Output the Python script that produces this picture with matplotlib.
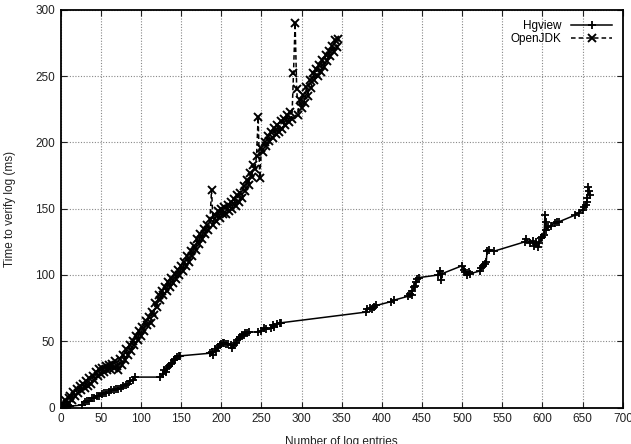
#!/usr/bin/env python3
"""
Log verification time vs number of log entries (Hgview / OpenJDK).
"""

import numpy as np
import matplotlib

matplotlib.use("Agg")
import matplotlib.pyplot as plt

# OpenJDK: one sample every 2 log entries
openjdk_x = np.arange(0, 347, 2)
openjdk_y = [
    0, 2, 1, 6, 3, 7, 9, 6, 12, 9,
    14, 11, 16, 13, 18, 15, 20, 16, 22, 18,
    24, 21, 27, 24, 29, 25, 30, 27, 31, 28,
    32, 29, 33, 30, 35, 31, 28, 37, 32, 40,
    36, 44, 40, 47, 43, 50, 47, 54, 51, 58,
    54, 61, 58, 65, 62, 68, 64, 72, 70, 79,
    76, 85, 81, 88, 85, 91, 88, 95, 91, 98,
    94, 101, 97, 104, 100, 107, 103, 110, 107, 114,
    110, 118, 114, 122, 119, 127, 123, 131, 127, 135,
    131, 138, 134, 142, 164, 138, 145, 141, 148, 143,
    150, 146, 151, 146, 153, 148, 155, 150, 157, 152,
    160, 155, 162, 158, 167, 163, 172, 168, 177, 174,
    183, 180, 190, 219, 173, 196, 193, 200, 197, 205,
    201, 208, 203, 211, 206, 213, 208, 216, 210, 218,
    213, 221, 215, 223, 218, 252, 290, 240, 221, 232,
    226, 236, 230, 242, 235, 247, 241, 252, 247, 255,
    250, 258, 253, 262, 257, 266, 261, 269, 265, 273,
    268, 277, 272, 278,
]

hgview_x = [
    0, 3, 6, 9, 12,
    27, 30, 33, 36, 39, 42, 45, 48, 51, 54, 57, 60, 63, 66, 69, 72, 75,
    78, 81, 84, 87, 90, 93,
    124, 127, 129, 131, 133, 135, 137, 139, 141, 143, 145, 147, 149,
    186, 188, 190, 192, 194, 196, 198, 200, 202, 204, 206, 208, 212, 214,
    216, 218, 220, 222, 224, 226, 228, 230, 232, 234,
    246, 250, 253, 256, 262, 264, 266, 270, 273, 275,
    380, 382, 385, 388, 390, 393, 412, 415,
    433, 435, 437, 438, 440, 441, 442, 444, 446,
    470, 472, 474, 475,
    500, 502, 504, 506, 508, 510,
    522, 524, 526, 528, 530, 531, 533, 540,
    578, 580, 585, 588, 590, 592, 594, 596, 598, 600, 602, 603, 604, 605,
    607, 610, 615, 618, 620, 640, 645, 650, 652, 654, 655, 656, 657, 658,
    659,
]
hgview_y = [
    0, 1, 0, 2, 1,
    2, 4, 5, 5, 7, 7, 9, 9, 10, 11, 11, 12, 13, 13, 14, 14, 15,
    16, 17, 18, 20, 21, 23,
    23, 25, 28, 27, 30, 31, 33, 34, 36, 37, 38, 39, 39,
    41, 42, 40, 44, 43, 46, 47, 48, 49, 49, 48, 48, 47, 45,
    47, 49, 51, 52, 53, 55, 55, 56, 56, 57,
    57, 58, 60, 59, 60, 62, 61, 63, 64, 64,
    72, 74, 75, 74, 76, 77, 80, 81,
    84, 86, 85, 88, 91, 92, 95, 97, 98,
    100, 103, 96, 101,
    107, 104, 102, 100, 102, 101,
    103, 105, 107, 108, 110, 118, 119, 118,
    125, 127, 124, 126, 122, 125, 121, 124, 128, 129, 130, 145, 140, 134,
    136, 137, 139, 140, 140, 145, 147, 149, 151, 153, 155, 158, 166, 163,
    160,
]

plt.rcParams["font.family"] = ["Liberation Sans", "DejaVu Sans"]

fig = plt.figure(figsize=(6.31, 4.44), dpi=100)
ax = fig.add_axes([0.096, 0.082, 0.891, 0.896])

ax.plot(hgview_x, hgview_y, "-", color="black", lw=1.1,
        marker="+", ms=6, mew=1.3, label="Hgview")
ax.plot(openjdk_x, openjdk_y, "--", color="black", lw=1.1, dashes=(3, 2),
        marker="x", ms=6, mew=1.4, label="OpenJDK")

ax.set_xlim(0, 700)
ax.set_ylim(0, 300)
ax.set_xticks(range(0, 701, 50))
ax.set_yticks(range(0, 301, 50))
ax.grid(True, color="#888888", linestyle=(0, (1, 1.5)), lw=0.8)
ax.tick_params(direction="in", top=True, right=True, length=4,
               labelsize=8.5, colors="#222222", pad=4)
for s in ax.spines.values():
    s.set_linewidth(1.3)

ax.set_xlabel("Number of log entries", fontsize=8.5, color="#222222", labelpad=8)
ax.set_ylabel("Time to verify log (ms)", fontsize=8.5, color="#222222", labelpad=14)

ax.legend(loc="upper right", frameon=False, fontsize=8.5, markerfirst=False,
          handlelength=3.5, handletextpad=0.8, labelspacing=0.05,
          borderaxespad=0.5)

fig.savefig("out.png", dpi=100)
